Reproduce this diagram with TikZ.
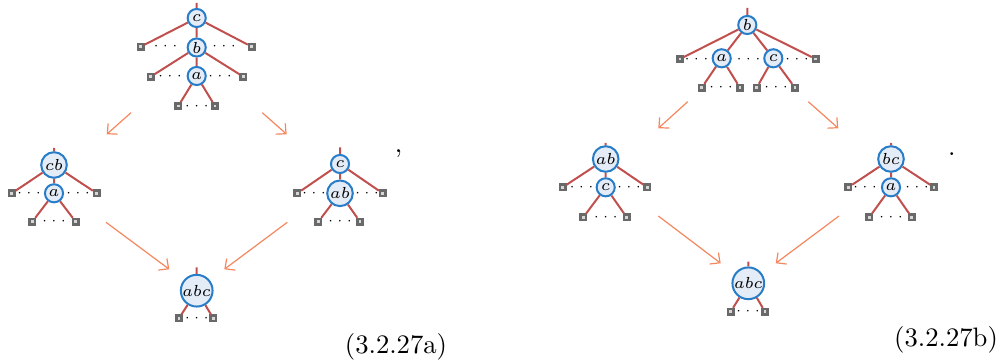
\documentclass[tikz,border=0pt]{standalone}
\usetikzlibrary{arrows.meta}
\definecolor{edgered}{RGB}{192,80,77}
\definecolor{circblue}{RGB}{40,125,200}
\definecolor{circfill}{RGB}{228,236,247}
\definecolor{arrcol}{RGB}{245,135,95}
\definecolor{leafdraw}{RGB}{105,105,105}
\definecolor{leaffill}{RGB}{215,215,215}
\begin{document}
\begin{tikzpicture}[x=0.375pt,y=-0.375pt,
  nd/.style={circle,draw=circblue,fill=circfill,line width=0.75pt,inner sep=0pt,font=\fontsize{5.6}{6}\selectfont},
  s1/.style={nd,minimum size=6.8pt},
  s2/.style={nd,minimum size=9.6pt},
  s3/.style={nd,minimum size=11.9pt},
  leaf/.style={rectangle,draw=leafdraw,fill=leaffill,line width=0.9pt,inner sep=0pt,minimum size=2pt},
  ed/.style={draw=edgered,line width=0.75pt},
  dts/.style={inner sep=0pt,font=\fontsize{4.8}{5}\selectfont},
  arr/.style={draw=arrcol,line width=0.45pt,-{Straight Barb[length=2.8pt,width=5.4pt]}},
  lbl/.style={inner sep=0pt,font=\fontsize{10}{12}\selectfont}]
\useasboundingbox (0,0) rectangle (1000,362);

% ---------- Tree A top ----------
\coordinate (At) at (196.7,3);
\node[s1] (Ac) at (196.7,18) {$c$};
\node[s1] (Ab) at (196.7,47.5) {$b$};
\node[s1] (Aa) at (196.7,76) {$a$};
\node[leaf] (Al1) at (140.7,46.7) {};
\node[leaf] (Ar1) at (251.7,46.7) {};
\node[leaf] (Al2) at (150.7,76.7) {};
\node[leaf] (Ar2) at (243.3,76.7) {};
\node[leaf] (Al3) at (178.3,106) {};
\node[leaf] (Ar3) at (215,106) {};
\node[dts] (Ad1) at (165.5,46.7) {$\cdots$};
\node[dts] (Ad2) at (224,46.7) {$\cdots$};
\node[dts] (Ad3) at (170,76.7) {$\cdots$};
\node[dts] (Ad4) at (220,76.7) {$\cdots$};
\node[dts] (Ad5) at (196.7,106) {$\cdots$};
\path[ed] (At)--(Ac) (Ac)--(Al1) (Ac)--(Ar1) (Ac)--(Ab)
  (Ab)--(Al2) (Ab)--(Ar2) (Ab)--(Aa) (Aa)--(Al3) (Aa)--(Ar3);

% ---------- Tree A left (cb / a) ----------
\coordinate (Bt) at (54,148);
\node[s2] (Bcb) at (54,165) {$cb$};
\node[s1] (Ba) at (54,193.3) {$a$};
\node[leaf] (Bl1) at (11.7,193.3) {};
\node[leaf] (Br1) at (96.7,193.3) {};
\node[leaf] (Bl2) at (32.3,221.7) {};
\node[leaf] (Br2) at (75.7,221.7) {};
\node[dts] (Bd1) at (29,193.3) {$\cdots$};
\node[dts] (Bd2) at (78,193.3) {$\cdots$};
\node[dts] (Bd3) at (54,221.7) {$\cdots$};
\path[ed] (Bt)--(Bcb) (Bcb)--(Bl1) (Bcb)--(Br1) (Bcb)--(Ba) (Ba)--(Bl2) (Ba)--(Br2);

% ---------- Tree A right (c / ab) ----------
\coordinate (Ct) at (340,147.3);
\node[s1] (Cc) at (340,164) {$c$};
\node[s2] (Cab) at (340,193.3) {$ab$};
\node[leaf] (Cl1) at (297.3,193.3) {};
\node[leaf] (Cr1) at (382.7,193.3) {};
\node[leaf] (Cl2) at (318.3,221.7) {};
\node[leaf] (Cr2) at (360,221.7) {};
\node[dts] (Cd1) at (314,193.3) {$\cdots$};
\node[dts] (Cd2) at (367,193.3) {$\cdots$};
\node[dts] (Cd3) at (340,221.7) {$\cdots$};
\path[ed] (Ct)--(Cc) (Cc)--(Cl1) (Cc)--(Cr1) (Cc)--(Cab) (Cab)--(Cl2) (Cab)--(Cr2);
\node[lbl] (Ccomma) at (398.5,154) {,};

% ---------- Tree A bottom (abc) ----------
\coordinate (Dt) at (196.7,267.3);
\node[s3] (Dabc) at (196.7,290.7) {$abc$};
\node[leaf] (Dl1) at (179,318.3) {};
\node[leaf] (Dr1) at (213.3,318.3) {};
\node[dts] (Dd1) at (196.7,318.3) {$\cdots$};
\path[ed] (Dt)--(Dabc) (Dabc)--(Dl1) (Dabc)--(Dr1);
\node[lbl] (Alab) at (396,347) {(3.2.27a)};

% arrows A
\coordinate (a1s) at (131,112.7); \coordinate (a1e) at (106.7,134.3);
\coordinate (a2s) at (262.3,112.7); \coordinate (a2e) at (286.7,134.3);
\coordinate (a3s) at (106,222.3); \coordinate (a3e) at (169.3,269.3);
\coordinate (a4s) at (287.3,222.3); \coordinate (a4e) at (224.3,269.3);
\draw[arr] (a1s)--(a1e);
\draw[arr] (a2s)--(a2e);
\draw[arr] (a3s)--(a3e);
\draw[arr] (a4s)--(a4e);

% ---------- Tree B top ----------
\coordinate (Et) at (747.3,8);
\node[s1] (Eb) at (747.3,25) {$b$};
\node[s1] (Ea) at (721.7,58.3) {$a$};
\node[s1] (Ec) at (773.3,58.3) {$c$};
\node[leaf] (El1) at (680,59) {};
\node[leaf] (Er1) at (815.7,59) {};
\node[leaf] (El2) at (701.7,87.7) {};
\node[leaf] (Er2) at (740,87.7) {};
\node[leaf] (El3) at (756.7,87.7) {};
\node[leaf] (Er3) at (795,87.7) {};
\node[dts] (Ed1) at (696.5,59) {$\cdots$};
\node[dts] (Ed2) at (748.5,59) {$\cdots$};
\node[dts] (Ed3) at (797,59) {$\cdots$};
\node[dts] (Ed4) at (721,87.7) {$\cdots$};
\node[dts] (Ed5) at (776,87.7) {$\cdots$};
\path[ed] (Et)--(Eb) (Eb)--(El1) (Eb)--(Er1) (Eb)--(Ea) (Eb)--(Ec)
  (Ea)--(El2) (Ea)--(Er2) (Ec)--(El3) (Ec)--(Er3);

% ---------- Tree B left (ab / c) ----------
\coordinate (Ft) at (605.7,143);
\node[s2] (Fab) at (605.7,159) {$ab$};
\node[s1] (Fc) at (605.7,187.3) {$c$};
\node[leaf] (Fl1) at (562.7,187.3) {};
\node[leaf] (Fr1) at (647.3,187.3) {};
\node[leaf] (Fl2) at (583.3,217.3) {};
\node[leaf] (Fr2) at (626.7,217.3) {};
\node[dts] (Fd1) at (581.5,187.3) {$\cdots$};
\node[dts] (Fd2) at (629,187.3) {$\cdots$};
\node[dts] (Fd3) at (605.7,217.3) {$\cdots$};
\path[ed] (Ft)--(Fab) (Fab)--(Fl1) (Fab)--(Fr1) (Fab)--(Fc) (Fc)--(Fl2) (Fc)--(Fr2);

% ---------- Tree B right (bc / a) ----------
\coordinate (Gt) at (891,143);
\node[s2] (Gbc) at (891,159) {$bc$};
\node[s1] (Ga) at (891,187.3) {$a$};
\node[leaf] (Gl1) at (848.3,187.3) {};
\node[leaf] (Gr1) at (934,187.3) {};
\node[leaf] (Gl2) at (869.3,217.3) {};
\node[leaf] (Gr2) at (911.7,217.3) {};
\node[dts] (Gd1) at (865,187.3) {$\cdots$};
\node[dts] (Gd2) at (917,187.3) {$\cdots$};
\node[dts] (Gd3) at (891,217.3) {$\cdots$};
\path[ed] (Gt)--(Gbc) (Gbc)--(Gl1) (Gbc)--(Gr1) (Gbc)--(Ga) (Ga)--(Gl2) (Ga)--(Gr2);
\node[lbl] (Gdot) at (951.7,154) {.};

% ---------- Tree B bottom (abc) ----------
\coordinate (Ht) at (748.3,261.7);
\node[s3] (Habc) at (748.3,283.3) {$abc$};
\node[leaf] (Hl1) at (730.7,311.7) {};
\node[leaf] (Hr1) at (765,311.7) {};
\node[dts] (Hd1) at (748,311.7) {$\cdots$};
\path[ed] (Ht)--(Habc) (Habc)--(Hl1) (Habc)--(Hr1);
\node[lbl] (Blab) at (946,340) {(3.2.27b)};

% arrows B
\coordinate (b1s) at (687.7,101.7); \coordinate (b1e) at (658.3,128.3);
\coordinate (b2s) at (808.3,101.7); \coordinate (b2e) at (838.3,128.3);
\coordinate (b3s) at (658.3,216); \coordinate (b3e) at (720.7,263.3);
\coordinate (b4s) at (839,216); \coordinate (b4e) at (775.7,263.3);
\draw[arr] (b1s)--(b1e);
\draw[arr] (b2s)--(b2e);
\draw[arr] (b3s)--(b3e);
\draw[arr] (b4s)--(b4e);
\end{tikzpicture}
\end{document}
